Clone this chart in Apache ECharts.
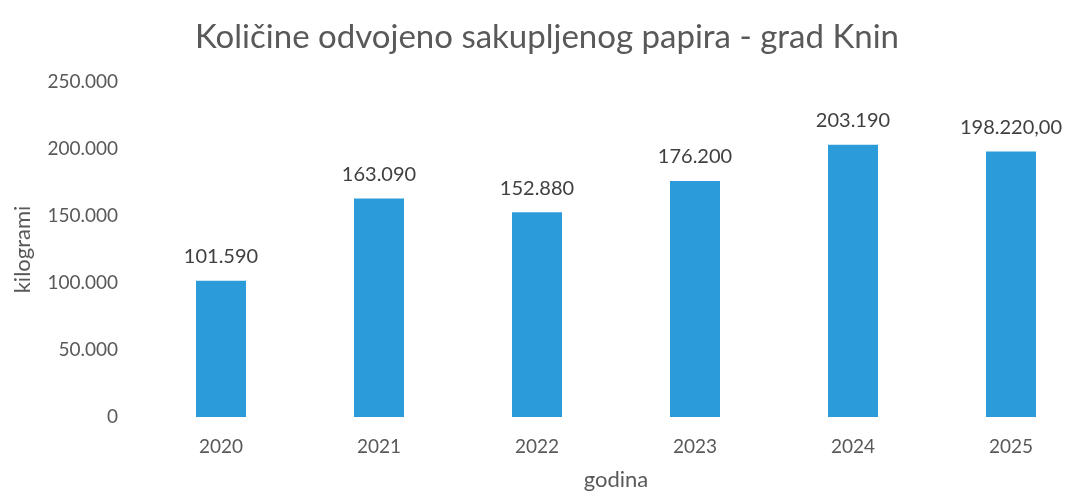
<!DOCTYPE html>
<html>
<head>
<meta charset="utf-8">
<script src="https://cdn.jsdelivr.net/npm/echarts@6/dist/echarts.min.js"></script>
<style>
  html, body { margin: 0; padding: 0; background: #fff; }
  #chart { width: 1066px; height: 492px; }
</style>
</head>
<body>
<div id="chart"></div>
<script>
// podaci
const years = ['2020', '2021', '2022', '2023', '2024', '2025'];
const kilograms = [101590, 163090, 152880, 176200, 203190, 198220];
const valueLabels = ['101.590', '163.090', '152.880', '176.200', '203.190', '198.220,00'];

// 250000 -> "250.000"
const fmtThousands = (v) => String(v).replace(/\B(?=(\d{3})+(?!\d))/g, '.');

const fontFamily = 'Lato, "Open Sans", sans-serif';

const chart = echarts.init(document.getElementById('chart'));
chart.setOption({
  animation: false,
  title: {
    text: 'Količine odvojeno sakupljenog papira - grad Knin',
    left: 542,
    textAlign: 'center',
    top: 16,
    textStyle: { color: '#595959', fontSize: 33, fontWeight: 'normal', fontFamily }
  },
  // grafikon izlazi malo desno od ruba (sken je odrezan)
  grid: { left: 142, top: 82, width: 948, height: 335, outerBoundsMode: 'none' },
  xAxis: {
    type: 'category',
    data: years,
    name: 'godina',
    nameLocation: 'middle',
    nameGap: 52,
    nameTextStyle: { color: '#595959', fontSize: 22, fontFamily },
    axisLine: { show: false },
    axisTick: { show: false },
    axisLabel: { color: '#595959', fontSize: 19, margin: 20, fontFamily }
  },
  yAxis: {
    type: 'value',
    min: 0,
    max: 250000,
    interval: 50000,
    name: 'kilogrami',
    nameLocation: 'middle',
    nameGap: 108,
    nameTextStyle: { color: '#595959', fontSize: 22, fontFamily },
    axisLine: { show: false },
    axisTick: { show: false },
    splitLine: { show: false },
    axisLabel: { color: '#595959', fontSize: 19, margin: 24, fontFamily, formatter: fmtThousands }
  },
  series: [{
    type: 'bar',
    data: kilograms,
    barWidth: 50,
    itemStyle: { color: '#2C9BDA' },
    label: {
      show: true,
      position: 'top',
      distance: 14,
      color: '#404040',
      fontSize: 20,
      fontFamily,
      formatter: (p) => valueLabels[p.dataIndex]
    }
  }]
});
</script>
</body>
</html>
